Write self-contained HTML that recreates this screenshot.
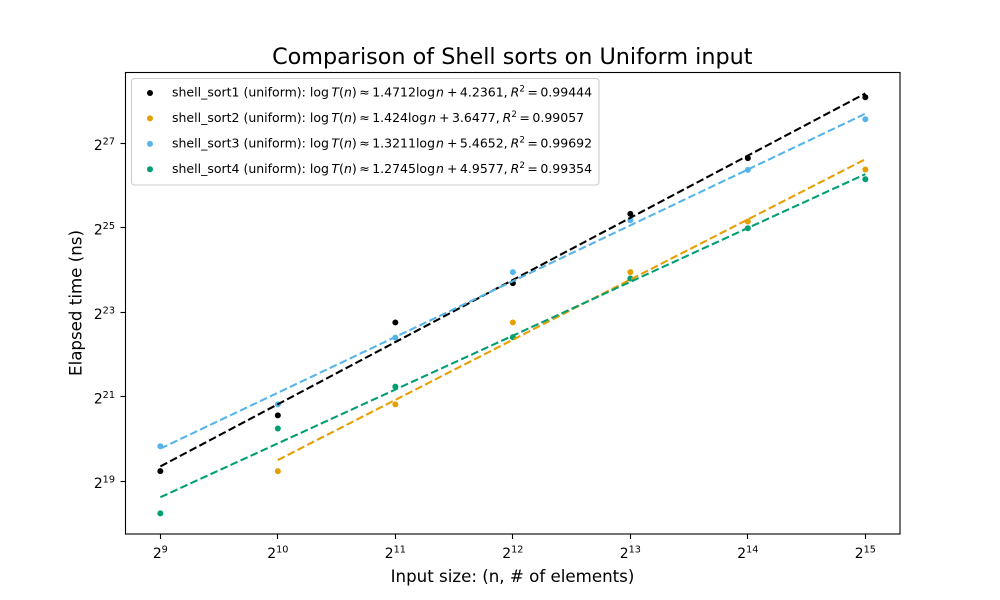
<!DOCTYPE html>
<html>
<head>
<meta charset="utf-8">
<title>Comparison of Shell sorts on Uniform input</title>
<style>
html,body{margin:0;padding:0;background:#fff;width:1000px;height:600px;overflow:hidden}
svg{display:block}
text{font-family:"DejaVu Sans","Liberation Sans",sans-serif;fill:#000}
</style>
</head>
<body>
<svg id="chart" width="1000" height="600" viewBox="0 0 1000 600" xmlns="http://www.w3.org/2000/svg">
  <rect x="0" y="0" width="1000" height="600" fill="#fff"/>
  <text x="512.3" y="64" font-size="22.3px" text-anchor="middle">Comparison of Shell sorts on Uniform input</text>
  <text x="512.5" y="582" font-size="16.67px" text-anchor="middle">Input size: (n, # of elements)</text>
  <text x="0" y="0" font-size="16.67px" text-anchor="middle" transform="translate(81.5 303) rotate(-90)">Elapsed time (ns)</text>
  <g id="ticks"></g>
  <g id="points"></g>
  <g id="fits"></g>
  <rect x="125.5" y="72.5" width="774.5" height="461.5" fill="none" stroke="#000" stroke-width="1.1"/>
  <g id="legend">
    <rect x="131.5" y="78.5" width="467.5" height="106.5" rx="3" ry="3" fill="#fff" fill-opacity="0.8" stroke="#ccc" stroke-width="1.1"/>
  </g>
</svg>
<script>
const xExponents = [9, 10, 11, 12, 13, 14, 15];
const xTickLabels = ["9", "10", "11", "12", "13", "14", "15"];
const yTickExponents = [19, 21, 23, 25, 27];
const yTickLabels = ["19", "21", "23", "25", "27"];
const seriesNames = ["shell_sort1", "shell_sort2", "shell_sort3", "shell_sort4"];
const seriesColors = ["#000000", "#E69F00", "#56B4E9", "#009E73"];
const slopes = [1.4712, 1.424, 1.3211, 1.2745];
const intercepts = [4.2361, 3.6477, 5.4652, 4.9577];
const slopeLabels = ["1.4712", "1.424", "1.3211", "1.2745"];
const interceptLabels = ["4.2361", "3.6477", "5.4652", "4.9577"];
const r2Labels = ["0.99444", "0.99057", "0.99692", "0.99354"];
// log2 of elapsed time at each x exponent; null = no point drawn
const sort1Values = [19.24, 20.56, 22.76, 23.69, 25.33, 26.65, 28.09];
const sort2Values = [null, 19.24, 20.82, 22.76, 23.95, 25.15, 26.38];
const sort3Values = [19.83, 20.82, 22.40, 23.95, 25.18, 26.37, 27.57];
const sort4Values = [18.24, 20.25, 21.24, 22.41, 23.80, 24.99, 26.15];
const allValues = [sort1Values, sort2Values, sort3Values, sort4Values];

const NS = "http://www.w3.org/2000/svg";
function xScale(e) { return 160.35 + (e - 9) * 117.5; }
function yScale(e) { return 481.3 - (e - 19) * 42.25; }
function fitValue(i, e) { return slopes[i] * e + intercepts[i] / Math.LN2; }
function make(tag, attrs) {
  const el = document.createElementNS(NS, tag);
  for (const k in attrs) el.setAttribute(k, attrs[k]);
  return el;
}
function powerLabel(parent, x, y, anchor, base) {
  const t = make("text", { x: x, y: y, "font-size": "13.9px", "text-anchor": anchor });
  t.appendChild(document.createTextNode("2"));
  const s = make("tspan", { dy: -5.6, "font-size": "9.7px" });
  s.textContent = base;
  t.appendChild(s);
  parent.appendChild(t);
  return t;
}

const ticks = document.getElementById("ticks");
xExponents.forEach(function (e, i) {
  const x = Math.floor(xScale(e)) + 0.5;
  const l = make("line", { x1: x, x2: x, y1: 534, y2: 539, stroke: "#000", "stroke-width": 1.1 });
  
  
  ticks.appendChild(l);
  const t = powerLabel(ticks, xScale(e), 558, "middle", xTickLabels[i]);
  
  
});
yTickExponents.forEach(function (e, i) {
  const y = Math.floor(yScale(e)) + 0.5;
  const l = make("line", { x1: 120.5, x2: 125.5, y1: y, y2: y, stroke: "#000", "stroke-width": 1.1 });
  
  
  ticks.appendChild(l);
  const t = powerLabel(ticks, 115, yScale(e) + 6.8, "end", yTickLabels[i]);
  
  
});

const points = document.getElementById("points");
allValues.forEach(function (vals, i) {
  vals.forEach(function (v, j) {
    if (v === null) return;
    const c = make("circle", { cx: xScale(xExponents[j]), cy: yScale(v), r: 3, fill: seriesColors[i] });
    
    
    points.appendChild(c);
  });
});

const fits = document.getElementById("fits");
allValues.forEach(function (vals, i) {
  const present = xExponents.filter(function (e, j) { return vals[j] !== null; });
  const d = present.map(function (e, k) {
    return (k ? "L" : "M") + xScale(e) + " " + yScale(fitValue(i, e));
  }).join(" ");
  const p = make("path", { d: d, fill: "none", stroke: seriesColors[i], "stroke-width": 2.08, "stroke-dasharray": "7.7 3.33" });
  
  
  fits.appendChild(p);
});

const legend = document.getElementById("legend");
const rowY = [93, 118.4, 143.9, 169.3];
seriesNames.forEach(function (name, i) {
  const y = rowY[i];
  const c = make("circle", { cx: 150, cy: y, r: 3, fill: seriesColors[i] });
  
  
  legend.appendChild(c);
  const t = make("text", { x: 172, y: y + 3.5, "font-size": "12.5px" });
  
  
  const parts = [
    [name + " (uniform): log", {}],
    ["\u2009", {}],
    ["T", { "font-style": "italic" }],
    ["(", {}],
    ["n", { "font-style": "italic" }],
    [")\u2009\u2248\u2009" + slopeLabels[i] + "log\u2009", {}],
    ["n", { "font-style": "italic", dx: -1.5 }],
    ["\u2009+", { dx: 0.5 }],
    ["\u2009" + interceptLabels[i] + ", ", {}],
    ["R", { "font-style": "italic", dx: -1 }]
  ];
  parts.forEach(function (p) {
    const s = make("tspan", p[1]);
    s.textContent = p[0];
    t.appendChild(s);
  });
  const sup = make("tspan", { dy: -5, "font-size": "8.75px" });
  sup.textContent = "2";
  t.appendChild(sup);
  const rest = make("tspan", { dy: 5 });
  rest.textContent = "\u2009=\u2009" + r2Labels[i];
  t.appendChild(rest);
  legend.appendChild(t);
});
</script>
</body>
</html>
